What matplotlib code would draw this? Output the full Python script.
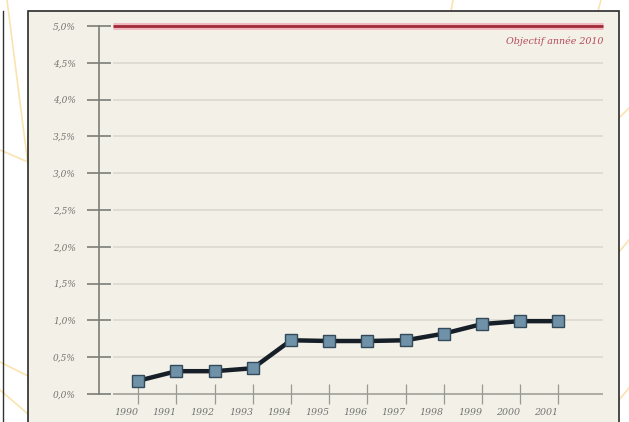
import matplotlib
matplotlib.use("Agg")
import matplotlib.pyplot as plt
from matplotlib.patches import Rectangle
from matplotlib.lines import Line2D

years = [1990, 1991, 1992, 1993, 1994, 1995, 1996, 1997, 1998, 1999, 2000, 2001]
values = [0.18, 0.31, 0.31, 0.35, 0.73, 0.72, 0.72, 0.73, 0.82, 0.95, 0.99, 0.99]
target = 5.0
target_label = "Objectif année 2010"
y_ticks = [0.0, 0.5, 1.0, 1.5, 2.0, 2.5, 3.0, 3.5, 4.0, 4.5, 5.0]
y_tick_labels = ["0,0%", "0,5%", "1,0%", "1,5%", "2,0%", "2,5%", "3,0%", "3,5%", "4,0%", "4,5%", "5,0%"]
x_tick_labels = [str(y) for y in years]

W, H = 629, 422
fig = plt.figure(figsize=(W / 100, H / 100), dpi=100)
fig.patch.set_facecolor("white")

def fx(px):
    return px / W

def fy(py):
    return 1 - py / H

# decorative background lines (outside panel)
deco = [((7, 0), (28, 165)), ((0, 150), (28, 162)), ((0, 362), (28, 376)), ((0, 390), (28, 414)),
        ((453, 0), (451, 11)), ((601, 0), (598, 11)), ((619, 118), (629, 108)), ((619, 252), (629, 240)),
        ((619, 400), (629, 388))]
for (a, b) in deco:
    fig.add_artist(Line2D([fx(a[0]), fx(b[0])], [fy(a[1]), fy(b[1])], color="#fbe3b0", lw=1.2, zorder=-12))

# left thin border of neighbouring panel
fig.add_artist(Line2D([fx(3), fx(3)], [fy(11), 0], color="#333333", lw=1, zorder=-11))

# beige panel
panel = Rectangle((fx(28), -0.05), fx(619) - fx(28), fy(11) + 0.05,
                  transform=fig.transFigure, facecolor="#f2f0e7", edgecolor="#2a2a2a", lw=1.2, zorder=-10)
fig.add_artist(panel)

# axes placement
x_left_px, x_right_px = 99, 603
y0_px, y5_px = 394, 26
ax = fig.add_axes([fx(x_left_px), fy(y0_px), fx(x_right_px) - fx(x_left_px), fy(y5_px) - fy(y0_px)])
ax.set_zorder(5)
ax.set_facecolor("none")
step = (558.3 - 138.3) / 11
xmin = 1990 - (138.3 - x_left_px) / step
xmax = 1990 + (x_right_px - 138.3) / step
ax.set_xlim(xmin, xmax)
ax.set_ylim(0, 5)
grid_start = 1990 - (138.3 - 113) / step

for s in ["top", "right", "bottom"]:
    ax.spines[s].set_visible(False)
ax.spines["left"].set_color("#7d7d78")
ax.spines["left"].set_linewidth(1.2)

# gridlines
for t in y_ticks[:-1]:
    if t == 0:
        ax.hlines(t, grid_start, xmax, color="#9a9a94", lw=1.1, clip_on=False, zorder=2)
    else:
        ax.hlines(t, grid_start, xmax, color="#d8d6ce", lw=1.1, zorder=1)

# target line
ax.hlines(target, grid_start, xmax, color="#f0b8bc", lw=5, clip_on=False, zorder=3)
ax.hlines(target, grid_start, xmax, color="#a02a38", lw=2, clip_on=False, zorder=4)
ax.text(xmax, target - 0.21, target_label, ha="right", va="center", fontsize=6.8,
        family="DejaVu Serif", style="italic", color="#b5495a")

# data
ax.plot(years, values, color="#161f28", lw=3.2, zorder=5, solid_joinstyle="round")
ax.plot(years, values, ls="none", marker="s", markersize=8.6, markerfacecolor="#6f92a9",
        markeredgecolor="#34495a", markeredgewidth=1.0, zorder=6)

ax.set_yticks(y_ticks)
ax.set_yticklabels(y_tick_labels)
ax.set_xticks(years)
ax.set_xticklabels(x_tick_labels)
ax.tick_params(axis="y", direction="inout", length=17, width=1.2, color="#7d7d78", pad=8,
               labelsize=6.5, labelcolor="#737370")
ax.tick_params(axis="x", direction="inout", length=14, width=0.9, color="#9a9a94", pad=3,
               labelsize=6.8, labelcolor="#737370")
for lab in ax.get_yticklabels() + ax.get_xticklabels():
    lab.set_family("DejaVu Serif")
    lab.set_style("italic")
for lab in ax.get_xticklabels():
    lab.set_horizontalalignment("right")

fig.savefig("out.png", dpi=100, facecolor="white")
